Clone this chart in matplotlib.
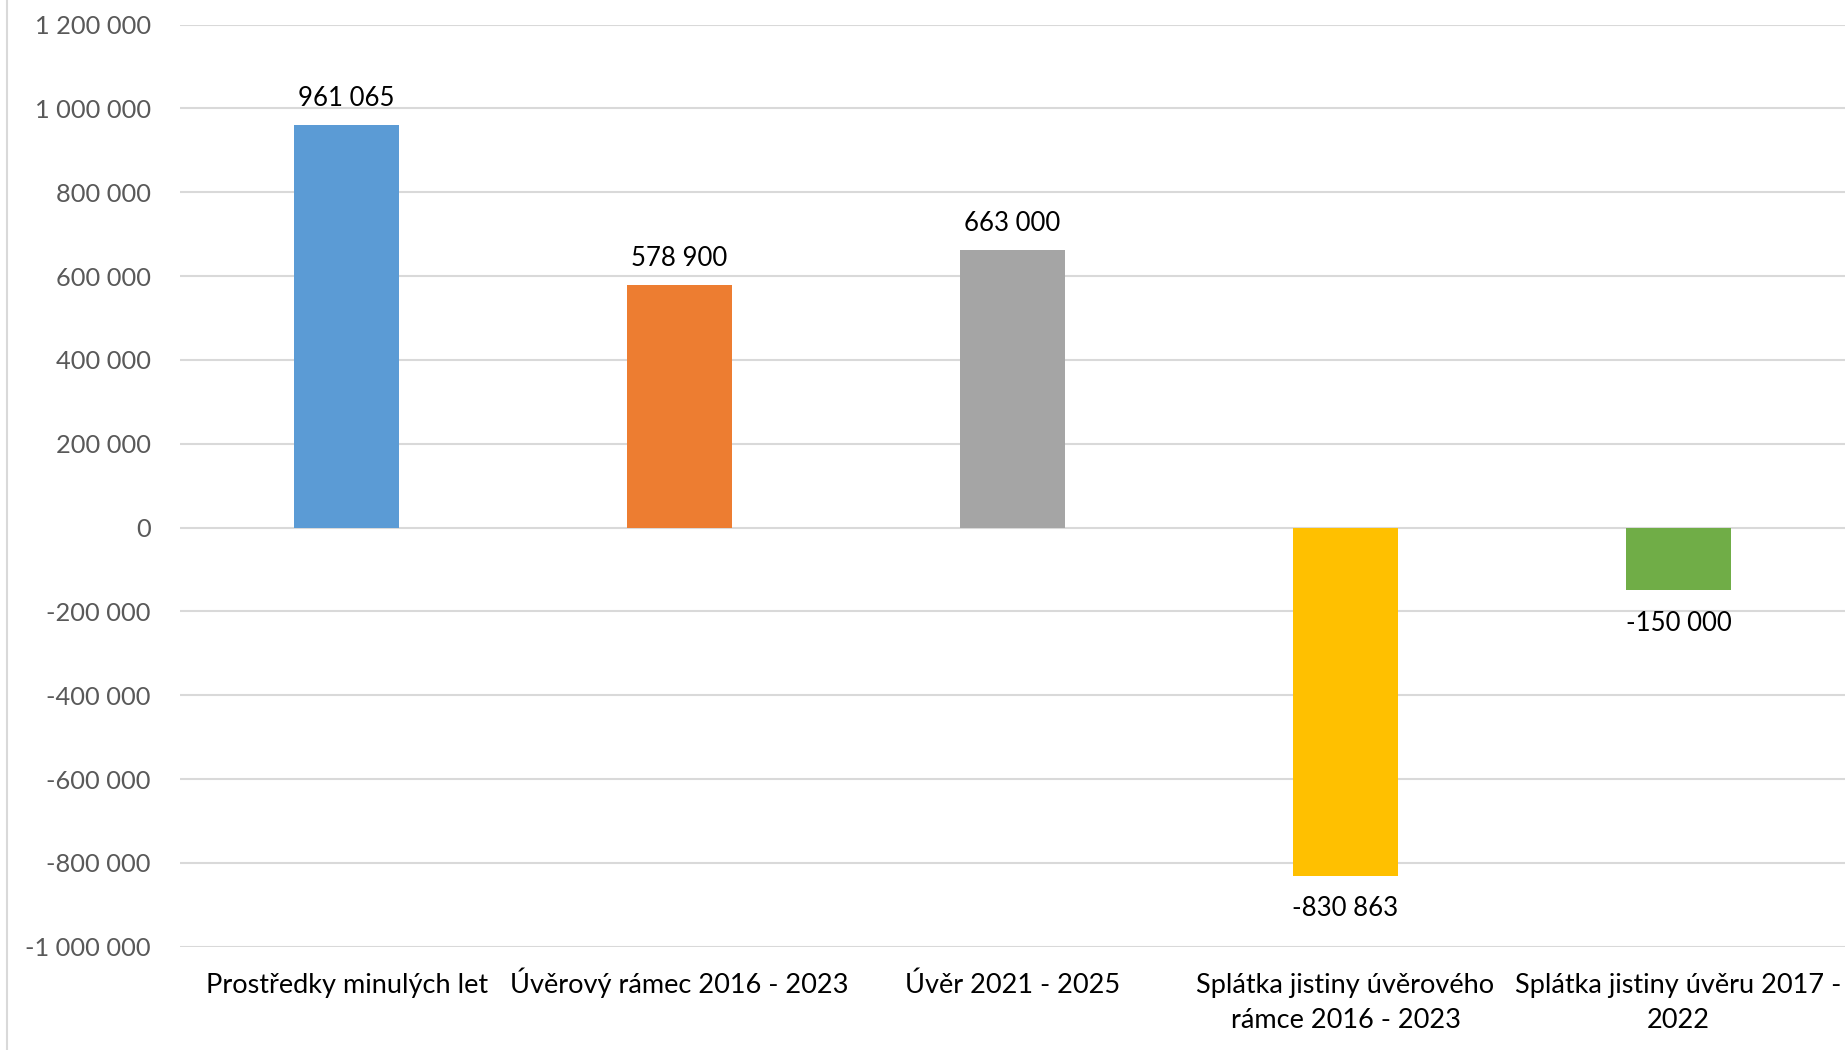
import matplotlib.pyplot as plt
from matplotlib.lines import Line2D
from matplotlib.ticker import FuncFormatter, MultipleLocator

plt.rcParams['font.family'] = ['Lato', 'DejaVu Sans']

categories = ["Prostředky minulých let", "Úvěrový rámec 2016 - 2023", "Úvěr 2021 - 2025",
              "Splátka jistiny úvěrového\nrámce 2016 - 2023", "Splátka jistiny úvěru 2017 -\n2022"]
values = [961065, 578900, 663000, -830863, -150000]
colors = ["#5B9BD5", "#ED7D31", "#A5A5A5", "#FFC000", "#70AD47"]


def fmt(v, pos=None):
    return "{:,}".format(int(v)).replace(",", " ")


fig = plt.figure(figsize=(18.45, 10.5), dpi=100)
ax = fig.add_axes([0.0976, 0.0984, 0.9024, 0.8781])

x = list(range(len(categories)))
ax.bar(x, values, width=0.315, color=colors, zorder=3)
ax.set_xlim(-0.5, len(categories) - 0.5)
ax.set_ylim(-1000000, 1200000)
ax.yaxis.set_major_locator(MultipleLocator(200000))
ax.yaxis.set_major_formatter(FuncFormatter(fmt))
ax.grid(axis='y', color="#D9D9D9", lw=1.5, zorder=0)

for xi, v in zip(x, values):
    off = 10 if v > 0 else -14.5
    ax.annotate(fmt(v), (xi, v), xytext=(0, off), textcoords='offset points',
                ha='center', va='bottom' if v > 0 else 'top', fontsize=18.5, color="#000000")

# category labels, line by line on a common baseline
ax.set_xticks([])
for xi, lab in zip(x, categories):
    for i, line in enumerate(lab.split("\n")):
        ax.annotate(line, (xi, 0), xycoords=ax.get_xaxis_transform(),
                    xytext=(0, -33 - 25.5 * i), textcoords='offset points',
                    ha='center', va='baseline', fontsize=19.5, color="#000000")

ax.tick_params(axis='y', length=0, pad=21, labelsize=18.3, labelcolor="#595959")
for s in ax.spines.values():
    s.set_visible(False)

fig.add_artist(Line2D([0.0038, 0.0038], [0, 1], color="#D9D9D9", lw=1.5, transform=fig.transFigure))

fig.savefig("out.png", dpi=100, facecolor="white")
